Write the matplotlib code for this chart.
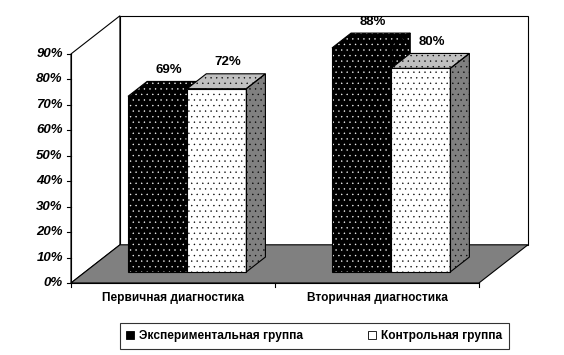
import numpy as np
import matplotlib
matplotlib.use('Agg')
import matplotlib.pyplot as plt
from matplotlib.patches import Polygon, Patch

plt.rcParams['font.family'] = ['Liberation Sans', 'DejaVu Sans']
plt.rcParams['hatch.linewidth'] = 0.25

# data
categories = ['Первичная диагностика', 'Вторичная диагностика']
series_names = ['Экспериментальная группа', 'Контрольная группа']
exp_values = [69, 88]
ctrl_values = [72, 80]
yticks = list(range(0, 100, 10))

# pseudo 3d geometry (data units)
DX, DY = 0.24, 15.0          # full depth of the floor / walls
F0, FD = 0.29, 0.39          # bar front position and bar depth as fraction of full depth
BW = 0.29                    # bar width
YMAX = 90

fig = plt.figure(figsize=(5.64, 3.55), dpi=100)
ax = fig.add_axes([0, 0, 1, 1])
ax.set_xlim(-0.348, 2.417)
ax.set_ylim(-28.3, 111.2)
ax.axis('off')

lw = 0.8

# walls and floor
left_wall = Polygon([(0, 0), (0, YMAX), (DX, YMAX + DY), (DX, DY)], closed=True,
                    facecolor='white', edgecolor='black', lw=lw, zorder=1)
back_wall = Polygon([(DX, DY), (DX, YMAX + DY), (2 + DX, YMAX + DY), (2 + DX, DY)], closed=True,
                    facecolor='white', edgecolor='black', lw=lw, zorder=1)
floor = Polygon([(0, 0), (2, 0), (2 + DX, DY), (DX, DY)], closed=True,
                facecolor='#808080', edgecolor='black', lw=lw, zorder=2)
for p in (left_wall, back_wall, floor):
    ax.add_patch(p)

# y axis ticks and labels
ax.plot([0, 0], [0, YMAX], color='black', lw=lw, zorder=3)
for t in yticks:
    ax.plot([-0.018, 0], [t, t], color='black', lw=lw, zorder=3)
    ax.text(-0.04, t, f'{t}%', ha='right', va='center', fontsize=9.5,
            fontweight='bold', fontstyle='italic')

# x axis ticks
ax.plot([0, 2], [0, 0], color='black', lw=lw, zorder=3)
for t in range(3):
    ax.plot([t, t], [0, -1.5], color='black', lw=lw, zorder=3)
for i, c in enumerate(categories):
    ax.text(i + 0.5, -5.9, c, ha='center', va='center', fontsize=8.6, fontweight='bold')

styles = [
    dict(face='black', hatch_c='white', top='black', top_h='white', side='black', side_h='white'),
    dict(face='white', hatch_c='black', top='#c0c0c0', top_h='black', side='#808080', side_h='black'),
]

dx0, dy0 = F0 * DX, F0 * DY
ddx, ddy = FD * DX, FD * DY

for i in range(len(categories)):
    vals = [exp_values[i], ctrl_values[i]]
    for j, v in enumerate(vals):
        st = styles[j]
        x0 = i + 0.5 - BW + j * BW + dx0
        x1 = x0 + BW
        y0 = dy0
        y1 = dy0 + v
        z = 5 + j
        # front face
        ax.bar(x0, v, width=BW, bottom=y0, align='edge', color=st['face'],
               edgecolor=st['hatch_c'], hatch='...', lw=0, zorder=z)
        ax.bar(x0, v, width=BW, bottom=y0, align='edge', fill=False,
               edgecolor='black', lw=lw, zorder=z + 0.1)
        # top face
        top = [(x0, y1), (x1, y1), (x1 + ddx, y1 + ddy), (x0 + ddx, y1 + ddy)]
        ax.add_patch(Polygon(top, closed=True, facecolor=st['top'], edgecolor=st['top_h'],
                             hatch='...', lw=0, zorder=z))
        ax.add_patch(Polygon(top, closed=True, fill=False, edgecolor='black', lw=lw, zorder=z + 0.1))
        # side face
        side = [(x1, y0), (x1, y1), (x1 + ddx, y1 + ddy), (x1 + ddx, y0 + ddy)]
        ax.add_patch(Polygon(side, closed=True, facecolor=st['side'], edgecolor=st['side_h'],
                             hatch='...', lw=0, zorder=z))
        ax.add_patch(Polygon(side, closed=True, fill=False, edgecolor='black', lw=lw, zorder=z + 0.1))
        # value label
        ax.text((x0 + x1) / 2 + 0.055, y1 + ddy + 4.5, f'{v}%', ha='center', va='center',
                fontsize=9.5, fontweight='bold', zorder=10)

# legend
handles = [Patch(facecolor='black', edgecolor='black', lw=0.6),
           Patch(facecolor='white', edgecolor='black', lw=0.6)]
leg = fig.legend(handles, series_names, loc='center', bbox_to_anchor=(0.557, 0.0535),
                 ncol=2, frameon=True, fancybox=False, handlelength=0.65, handleheight=0.65,
                 handletextpad=0.4, columnspacing=5.5, borderpad=0.55,
                 prop={'size': 8.6, 'weight': 'bold'})
leg.get_frame().set_edgecolor('black')
leg.get_frame().set_linewidth(lw)
# dot in the middle of the white legend square
for h in leg.legend_handles[1:]:
    h.set_hatch('.')

fig.savefig('out.png', dpi=100)
